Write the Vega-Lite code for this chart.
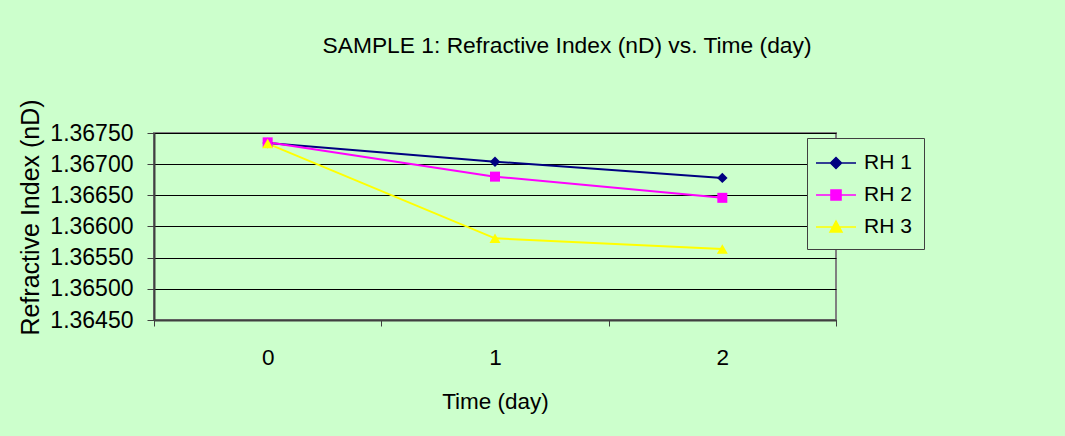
{
  "$schema": "https://vega.github.io/schema/vega-lite/v6.json",
  "width": 682,
  "height": 187,
  "autosize": {"type": "none"},
  "padding": {"left": 154, "top": 133, "right": 229, "bottom": 116},
  "background": "#CCFFCC",
  "config": {
    "font": "Liberation Sans",
    "view": {"stroke": "#808080", "strokeWidth": 2, "fill": "#CCFFCC"}
  },
  "title": {
    "text": "SAMPLE 1: Refractive Index (nD) vs. Time (day)",
    "fontSize": 22.8,
    "fontWeight": "normal",
    "color": "black",
    "anchor": "middle",
    "frame": "group",
    "dx": 72,
    "offset": 41
  },
  "data": {
    "values": [
      {"series": "RH 1", "day": "0", "nD": 1.36734},
      {"series": "RH 1", "day": "1", "nD": 1.36704},
      {"series": "RH 1", "day": "2", "nD": 1.36678},
      {"series": "RH 2", "day": "0", "nD": 1.36735},
      {"series": "RH 2", "day": "1", "nD": 1.36680},
      {"series": "RH 2", "day": "2", "nD": 1.36646},
      {"series": "RH 3", "day": "0", "nD": 1.36733},
      {"series": "RH 3", "day": "1", "nD": 1.36581},
      {"series": "RH 3", "day": "2", "nD": 1.36564}
    ]
  },
  "encoding": {
    "x": {
      "field": "day",
      "type": "ordinal",
      "scale": {"type": "band", "paddingInner": 0, "paddingOuter": 0},
      "axis": {
        "title": "Time (day)",
        "titleFontSize": 22.5,
        "titleFontWeight": "normal",
        "titleColor": "black",
        "titlePadding": 22,
        "labelAngle": 0,
        "labelFontSize": 22.5,
        "labelColor": "black",
        "labelPadding": 20,
        "tickBand": "extent",
        "tickSize": 6,
        "tickColor": "#404040",
        "domainColor": "#404040",
        "domainWidth": 2,
        "grid": false
      }
    },
    "y": {
      "field": "nD",
      "type": "quantitative",
      "scale": {"domain": [1.3645, 1.3675], "nice": false, "zero": false},
      "axis": {
        "values": [1.3645, 1.365, 1.3655, 1.366, 1.3665, 1.367, 1.3675],
        "format": ".5f",
        "title": "Refractive Index (nD)",
        "titleFontSize": 25,
        "titleFontWeight": "normal",
        "titleColor": "black",
        "titlePadding": 6,
        "titleY": 84,
        "labelFontSize": 23,
        "labelColor": "black",
        "labelPadding": 14,
        "tickSize": 7,
        "tickColor": "#404040",
        "domainColor": "#404040",
        "domainWidth": 2,
        "gridColor": "black",
        "gridWidth": 1,
        "gridOpacity": 1
      }
    },
    "color": {
      "field": "series",
      "type": "nominal",
      "scale": {"domain": ["RH 1", "RH 2", "RH 3"], "range": ["#000080", "#FF00FF", "#FFFF00"]},
      "legend": {
        "orient": "none",
        "legendX": 653,
        "legendY": 5,
        "title": null,
        "padding": 12,
        "strokeColor": "#404040",
        "fillColor": "#CCFFCC",
        "symbolSize": 576,
        "symbolOffset": 4,
        "symbolStrokeWidth": 1.5,
        "rowPadding": 9,
        "labelFontSize": 21,
        "labelColor": "black",
        "labelOffset": 15,
        "encode": {
          "symbols": {
            "update": {
              "shape": {"signal": "datum.value == 'RH 1' ? 'M-1.67,0H1.67M0,-0.46L0.46,0L0,0.46L-0.46,0Z' : datum.value == 'RH 2' ? 'M-1.67,0H1.67M-0.42,-0.42H0.42V0.42H-0.42Z' : 'M-1.67,0H1.67M-0.5,0.42L0,-0.5L0.5,0.42Z'"},
              "fill": {"scale": "color", "field": "value"},
              "stroke": {"scale": "color", "field": "value"},
              "opacity": {"value": 1}
            }
          }
        }
      }
    }
  },
  "layer": [
    {"mark": {"type": "line", "strokeWidth": 2}},
    {
      "transform": [{"filter": "datum.series == 'RH 1'"}],
      "mark": {"type": "point", "filled": true, "size": 110, "opacity": 1, "shape": "diamond"}
    },
    {
      "transform": [{"filter": "datum.series == 'RH 2'"}],
      "mark": {"type": "point", "filled": true, "size": 100, "opacity": 1, "shape": "square"}
    },
    {
      "transform": [{"filter": "datum.series == 'RH 3'"}],
      "mark": {"type": "point", "filled": true, "size": 120, "opacity": 1, "shape": "triangle-up"}
    }
  ]
}
